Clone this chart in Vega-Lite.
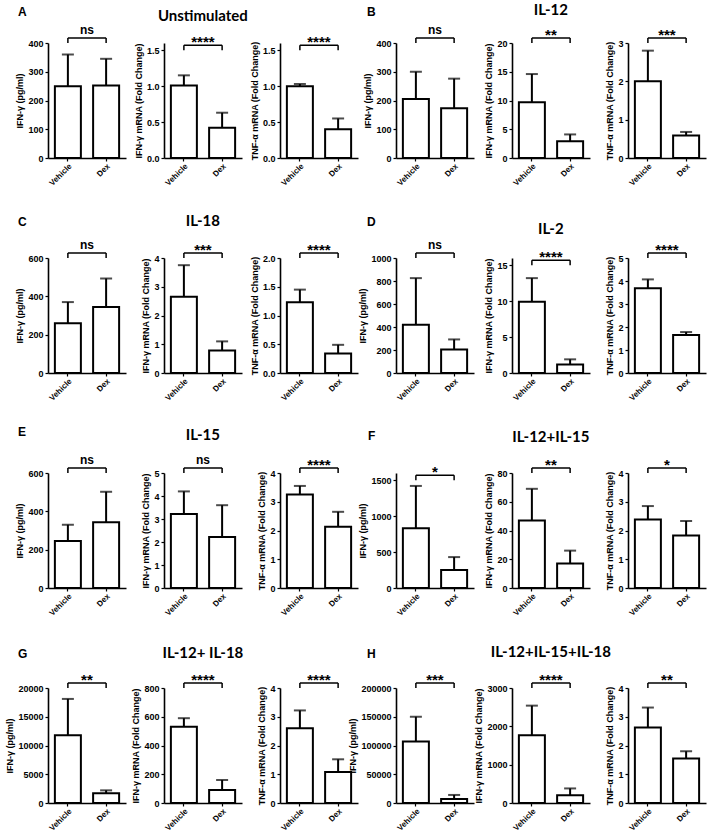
{
"$schema":"https://vega.github.io/schema/vega-lite/v6.json",
"background":"white",
"padding":{"left":5,"top":3,"right":2,"bottom":0},
"datasets":{"bars":[
{"p":"A1","g":"Vehicle","mean":250,"hi":360,"sig":"ns"},
{"p":"A1","g":"Dex","mean":252,"hi":345,"sig":"ns"},
{"p":"A2","g":"Vehicle","mean":1.01,"hi":1.15,"sig":"****"},
{"p":"A2","g":"Dex","mean":0.42,"hi":0.63,"sig":"****"},
{"p":"A3","g":"Vehicle","mean":1.0,"hi":1.03,"sig":"****"},
{"p":"A3","g":"Dex","mean":0.4,"hi":0.55,"sig":"****"},
{"p":"B1","g":"Vehicle","mean":205,"hi":300,"sig":"ns"},
{"p":"B1","g":"Dex","mean":173,"hi":276,"sig":"ns"},
{"p":"B2","g":"Vehicle","mean":9.7,"hi":14.6,"sig":"**"},
{"p":"B2","g":"Dex","mean":2.9,"hi":4.1,"sig":"**"},
{"p":"B3","g":"Vehicle","mean":2.0,"hi":2.8,"sig":"***"},
{"p":"B3","g":"Dex","mean":0.59,"hi":0.68,"sig":"***"},
{"p":"C1","g":"Vehicle","mean":260,"hi":370,"sig":"ns"},
{"p":"C1","g":"Dex","mean":345,"hi":493,"sig":"ns"},
{"p":"C2","g":"Vehicle","mean":2.65,"hi":3.75,"sig":"***"},
{"p":"C2","g":"Dex","mean":0.78,"hi":1.1,"sig":"***"},
{"p":"C3","g":"Vehicle","mean":1.23,"hi":1.45,"sig":"****"},
{"p":"C3","g":"Dex","mean":0.34,"hi":0.49,"sig":"****"},
{"p":"D1","g":"Vehicle","mean":420,"hi":825,"sig":"ns"},
{"p":"D1","g":"Dex","mean":205,"hi":292,"sig":"ns"},
{"p":"D2","g":"Vehicle","mean":9.9,"hi":13.2,"sig":"****"},
{"p":"D2","g":"Dex","mean":1.2,"hi":1.9,"sig":"****"},
{"p":"D3","g":"Vehicle","mean":3.68,"hi":4.07,"sig":"****"},
{"p":"D3","g":"Dex","mean":1.65,"hi":1.78,"sig":"****"},
{"p":"E1","g":"Vehicle","mean":245,"hi":330,"sig":"ns"},
{"p":"E1","g":"Dex","mean":343,"hi":502,"sig":"ns"},
{"p":"E2","g":"Vehicle","mean":3.22,"hi":4.2,"sig":"ns"},
{"p":"E2","g":"Dex","mean":2.22,"hi":3.6,"sig":"ns"},
{"p":"E3","g":"Vehicle","mean":3.25,"hi":3.55,"sig":"****"},
{"p":"E3","g":"Dex","mean":2.13,"hi":2.65,"sig":"****"},
{"p":"F1","g":"Vehicle","mean":830,"hi":1420,"sig":"*"},
{"p":"F1","g":"Dex","mean":250,"hi":430,"sig":"*"},
{"p":"F2","g":"Vehicle","mean":47,"hi":69,"sig":"**"},
{"p":"F2","g":"Dex","mean":17,"hi":26,"sig":"**"},
{"p":"F3","g":"Vehicle","mean":2.38,"hi":2.85,"sig":"*"},
{"p":"F3","g":"Dex","mean":1.83,"hi":2.33,"sig":"*"},
{"p":"G1","g":"Vehicle","mean":11800,"hi":18100,"sig":"**"},
{"p":"G1","g":"Dex","mean":1700,"hi":2200,"sig":"**"},
{"p":"G2","g":"Vehicle","mean":530,"hi":590,"sig":"****"},
{"p":"G2","g":"Dex","mean":90,"hi":160,"sig":"****"},
{"p":"G3","g":"Vehicle","mean":2.6,"hi":3.22,"sig":"****"},
{"p":"G3","g":"Dex","mean":1.08,"hi":1.52,"sig":"****"},
{"p":"H1","g":"Vehicle","mean":107000,"hi":150000,"sig":"***"},
{"p":"H1","g":"Dex","mean":7000,"hi":14000,"sig":"***"},
{"p":"H2","g":"Vehicle","mean":1770,"hi":2540,"sig":"****"},
{"p":"H2","g":"Dex","mean":200,"hi":380,"sig":"****"},
{"p":"H3","g":"Vehicle","mean":2.63,"hi":3.32,"sig":"**"},
{"p":"H3","g":"Dex","mean":1.55,"hi":1.8,"sig":"**"}
]},
"columns":6,
"bounds":"flush",
"spacing":{"row":100,"column":38},
"concat":[
{"width":78,"height":115,
"data":{"name":"bars"},"transform":[{"filter":"datum.p==='A1'"}],
"encoding":{"x":{"field":"g","type":"nominal","sort":["Vehicle","Dex"],"title":null}},
"layer":[
{"mark":"bar","encoding":{"y":{"field":"mean","type":"quantitative","scale":{"domain":[0,400]},"axis":{"title":"IFN-γ (pg/ml)","values":[0,100,200,300,400],"tickCount":20,"format":"d"}}}},
{"mark":"rule","encoding":{"y":{"field":"mean","type":"quantitative"},"y2":{"field":"hi"}}},
{"mark":{"type":"tick","size":12,"thickness":2,"color":"black"},"encoding":{"y":{"field":"hi","type":"quantitative"}}},
{"mark":{"type":"rule","yOffset":-5,"strokeWidth":1.5},"encoding":{"y":{"datum":400},"y2":{"datum":400}}},
{"transform":[{"filter":"datum.g==='Vehicle'"}],"mark":{"type":"rule","yOffset":-5,"strokeWidth":1.5},"encoding":{"x2":{"datum":"Dex"},"y":{"datum":400}}},
{"transform":[{"filter":"datum.g==='Vehicle'"}],"mark":{"type":"text","dx":19,"dy":-9,"fontSize":12},"encoding":{"y":{"datum":400},"text":{"field":"sig"}}},
{"transform":[{"filter":"datum.g==='Vehicle'"}],"mark":{"type":"text","align":"left","dx":-50,"dy":-27,"fontSize":12},"encoding":{"y":{"datum":400},"text":{"value":"A"}}}
]},
{"width":78,"height":115,
"data":{"name":"bars"},"transform":[{"filter":"datum.p==='A2'"}],
"encoding":{"x":{"field":"g","type":"nominal","sort":["Vehicle","Dex"],"title":null}},
"layer":[
{"mark":"bar","encoding":{"y":{"field":"mean","type":"quantitative","scale":{"domain":[0,1.5]},"axis":{"title":"IFN-γ mRNA (Fold Change)","values":[0,0.5,1,1.5],"tickCount":20,"format":".1f"}}}},
{"mark":"rule","encoding":{"y":{"field":"mean","type":"quantitative"},"y2":{"field":"hi"}}},
{"mark":{"type":"tick","size":12,"thickness":2,"color":"black"},"encoding":{"y":{"field":"hi","type":"quantitative"}}},
{"mark":{"type":"rule","yOffset":-5,"strokeWidth":1.5},"encoding":{"y":{"datum":1.5},"y2":{"datum":1.5}}},
{"transform":[{"filter":"datum.g==='Vehicle'"}],"mark":{"type":"rule","yOffset":-5,"strokeWidth":1.5},"encoding":{"x2":{"datum":"Dex"},"y":{"datum":1.5}}},
{"transform":[{"filter":"datum.g==='Vehicle'"}],"mark":{"type":"text","dx":19,"dy":-3,"fontSize":15},"encoding":{"y":{"datum":1.5},"text":{"field":"sig"}}},
{"transform":[{"filter":"datum.g==='Vehicle'"}],"mark":{"type":"text","font":"Lato","dx":19,"dy":-29,"fontSize":15},"encoding":{"y":{"datum":1.5},"text":{"value":"Unstimulated"}}}
]},
{"width":78,"height":115,
"data":{"name":"bars"},"transform":[{"filter":"datum.p==='A3'"}],
"encoding":{"x":{"field":"g","type":"nominal","sort":["Vehicle","Dex"],"title":null}},
"layer":[
{"mark":"bar","encoding":{"y":{"field":"mean","type":"quantitative","scale":{"domain":[0,1.5]},"axis":{"title":"TNF-α mRNA (Fold Change)","values":[0,0.5,1,1.5],"tickCount":20,"format":".1f"}}}},
{"mark":"rule","encoding":{"y":{"field":"mean","type":"quantitative"},"y2":{"field":"hi"}}},
{"mark":{"type":"tick","size":12,"thickness":2,"color":"black"},"encoding":{"y":{"field":"hi","type":"quantitative"}}},
{"mark":{"type":"rule","yOffset":-5,"strokeWidth":1.5},"encoding":{"y":{"datum":1.5},"y2":{"datum":1.5}}},
{"transform":[{"filter":"datum.g==='Vehicle'"}],"mark":{"type":"rule","yOffset":-5,"strokeWidth":1.5},"encoding":{"x2":{"datum":"Dex"},"y":{"datum":1.5}}},
{"transform":[{"filter":"datum.g==='Vehicle'"}],"mark":{"type":"text","dx":19,"dy":-3,"fontSize":15},"encoding":{"y":{"datum":1.5},"text":{"field":"sig"}}}
]},
{"width":78,"height":115,
"data":{"name":"bars"},"transform":[{"filter":"datum.p==='B1'"}],
"encoding":{"x":{"field":"g","type":"nominal","sort":["Vehicle","Dex"],"title":null}},
"layer":[
{"mark":"bar","encoding":{"y":{"field":"mean","type":"quantitative","scale":{"domain":[0,400]},"axis":{"title":"IFN-γ (pg/ml)","values":[0,100,200,300,400],"tickCount":20,"format":"d"}}}},
{"mark":"rule","encoding":{"y":{"field":"mean","type":"quantitative"},"y2":{"field":"hi"}}},
{"mark":{"type":"tick","size":12,"thickness":2,"color":"black"},"encoding":{"y":{"field":"hi","type":"quantitative"}}},
{"mark":{"type":"rule","yOffset":-5,"strokeWidth":1.5},"encoding":{"y":{"datum":400},"y2":{"datum":400}}},
{"transform":[{"filter":"datum.g==='Vehicle'"}],"mark":{"type":"rule","yOffset":-5,"strokeWidth":1.5},"encoding":{"x2":{"datum":"Dex"},"y":{"datum":400}}},
{"transform":[{"filter":"datum.g==='Vehicle'"}],"mark":{"type":"text","dx":19,"dy":-9,"fontSize":12},"encoding":{"y":{"datum":400},"text":{"field":"sig"}}},
{"transform":[{"filter":"datum.g==='Vehicle'"}],"mark":{"type":"text","align":"left","dx":-49,"dy":-27,"fontSize":12},"encoding":{"y":{"datum":400},"text":{"value":"B"}}}
]},
{"width":78,"height":115,
"data":{"name":"bars"},"transform":[{"filter":"datum.p==='B2'"}],
"encoding":{"x":{"field":"g","type":"nominal","sort":["Vehicle","Dex"],"title":null}},
"layer":[
{"mark":"bar","encoding":{"y":{"field":"mean","type":"quantitative","scale":{"domain":[0,20]},"axis":{"title":"IFN-γ mRNA (Fold Change)","values":[0,5,10,15,20],"tickCount":20,"format":"d"}}}},
{"mark":"rule","encoding":{"y":{"field":"mean","type":"quantitative"},"y2":{"field":"hi"}}},
{"mark":{"type":"tick","size":12,"thickness":2,"color":"black"},"encoding":{"y":{"field":"hi","type":"quantitative"}}},
{"mark":{"type":"rule","yOffset":-5,"strokeWidth":1.5},"encoding":{"y":{"datum":20},"y2":{"datum":20}}},
{"transform":[{"filter":"datum.g==='Vehicle'"}],"mark":{"type":"rule","yOffset":-5,"strokeWidth":1.5},"encoding":{"x2":{"datum":"Dex"},"y":{"datum":20}}},
{"transform":[{"filter":"datum.g==='Vehicle'"}],"mark":{"type":"text","dx":19,"dy":-3,"fontSize":15},"encoding":{"y":{"datum":20},"text":{"field":"sig"}}},
{"transform":[{"filter":"datum.g==='Vehicle'"}],"mark":{"type":"text","font":"Lato","dx":19,"dy":-28,"fontSize":15},"encoding":{"y":{"datum":20},"text":{"value":"IL-12"}}}
]},
{"width":78,"height":115,
"data":{"name":"bars"},"transform":[{"filter":"datum.p==='B3'"}],
"encoding":{"x":{"field":"g","type":"nominal","sort":["Vehicle","Dex"],"title":null}},
"layer":[
{"mark":"bar","encoding":{"y":{"field":"mean","type":"quantitative","scale":{"domain":[0,3]},"axis":{"title":"TNF-α mRNA (Fold Change)","values":[0,1,2,3],"tickCount":20,"format":"d"}}}},
{"mark":"rule","encoding":{"y":{"field":"mean","type":"quantitative"},"y2":{"field":"hi"}}},
{"mark":{"type":"tick","size":12,"thickness":2,"color":"black"},"encoding":{"y":{"field":"hi","type":"quantitative"}}},
{"mark":{"type":"rule","yOffset":-5,"strokeWidth":1.5},"encoding":{"y":{"datum":3},"y2":{"datum":3}}},
{"transform":[{"filter":"datum.g==='Vehicle'"}],"mark":{"type":"rule","yOffset":-5,"strokeWidth":1.5},"encoding":{"x2":{"datum":"Dex"},"y":{"datum":3}}},
{"transform":[{"filter":"datum.g==='Vehicle'"}],"mark":{"type":"text","dx":19,"dy":-3,"fontSize":15},"encoding":{"y":{"datum":3},"text":{"field":"sig"}}}
]},
{"width":78,"height":115,
"data":{"name":"bars"},"transform":[{"filter":"datum.p==='C1'"}],
"encoding":{"x":{"field":"g","type":"nominal","sort":["Vehicle","Dex"],"title":null}},
"layer":[
{"mark":"bar","encoding":{"y":{"field":"mean","type":"quantitative","scale":{"domain":[0,600]},"axis":{"title":"IFN-γ (pg/ml)","values":[0,200,400,600],"tickCount":20,"format":"d"}}}},
{"mark":"rule","encoding":{"y":{"field":"mean","type":"quantitative"},"y2":{"field":"hi"}}},
{"mark":{"type":"tick","size":12,"thickness":2,"color":"black"},"encoding":{"y":{"field":"hi","type":"quantitative"}}},
{"mark":{"type":"rule","yOffset":-5,"strokeWidth":1.5},"encoding":{"y":{"datum":600},"y2":{"datum":600}}},
{"transform":[{"filter":"datum.g==='Vehicle'"}],"mark":{"type":"rule","yOffset":-5,"strokeWidth":1.5},"encoding":{"x2":{"datum":"Dex"},"y":{"datum":600}}},
{"transform":[{"filter":"datum.g==='Vehicle'"}],"mark":{"type":"text","dx":19,"dy":-9,"fontSize":12},"encoding":{"y":{"datum":600},"text":{"field":"sig"}}},
{"transform":[{"filter":"datum.g==='Vehicle'"}],"mark":{"type":"text","align":"left","dx":-50,"dy":-32,"fontSize":12},"encoding":{"y":{"datum":600},"text":{"value":"C"}}}
]},
{"width":78,"height":115,
"data":{"name":"bars"},"transform":[{"filter":"datum.p==='C2'"}],
"encoding":{"x":{"field":"g","type":"nominal","sort":["Vehicle","Dex"],"title":null}},
"layer":[
{"mark":"bar","encoding":{"y":{"field":"mean","type":"quantitative","scale":{"domain":[0,4]},"axis":{"title":"IFN-γ mRNA (Fold Change)","values":[0,1,2,3,4],"tickCount":20,"format":"d"}}}},
{"mark":"rule","encoding":{"y":{"field":"mean","type":"quantitative"},"y2":{"field":"hi"}}},
{"mark":{"type":"tick","size":12,"thickness":2,"color":"black"},"encoding":{"y":{"field":"hi","type":"quantitative"}}},
{"mark":{"type":"rule","yOffset":-5,"strokeWidth":1.5},"encoding":{"y":{"datum":4},"y2":{"datum":4}}},
{"transform":[{"filter":"datum.g==='Vehicle'"}],"mark":{"type":"rule","yOffset":-5,"strokeWidth":1.5},"encoding":{"x2":{"datum":"Dex"},"y":{"datum":4}}},
{"transform":[{"filter":"datum.g==='Vehicle'"}],"mark":{"type":"text","dx":19,"dy":-3,"fontSize":15},"encoding":{"y":{"datum":4},"text":{"field":"sig"}}},
{"transform":[{"filter":"datum.g==='Vehicle'"}],"mark":{"type":"text","font":"Lato","dx":19,"dy":-32,"fontSize":15},"encoding":{"y":{"datum":4},"text":{"value":"IL-18"}}}
]},
{"width":78,"height":115,
"data":{"name":"bars"},"transform":[{"filter":"datum.p==='C3'"}],
"encoding":{"x":{"field":"g","type":"nominal","sort":["Vehicle","Dex"],"title":null}},
"layer":[
{"mark":"bar","encoding":{"y":{"field":"mean","type":"quantitative","scale":{"domain":[0,2]},"axis":{"title":"TNF-α mRNA (Fold Change)","values":[0,0.5,1,1.5,2],"tickCount":20,"format":".1f"}}}},
{"mark":"rule","encoding":{"y":{"field":"mean","type":"quantitative"},"y2":{"field":"hi"}}},
{"mark":{"type":"tick","size":12,"thickness":2,"color":"black"},"encoding":{"y":{"field":"hi","type":"quantitative"}}},
{"mark":{"type":"rule","yOffset":-5,"strokeWidth":1.5},"encoding":{"y":{"datum":2},"y2":{"datum":2}}},
{"transform":[{"filter":"datum.g==='Vehicle'"}],"mark":{"type":"rule","yOffset":-5,"strokeWidth":1.5},"encoding":{"x2":{"datum":"Dex"},"y":{"datum":2}}},
{"transform":[{"filter":"datum.g==='Vehicle'"}],"mark":{"type":"text","dx":19,"dy":-3,"fontSize":15},"encoding":{"y":{"datum":2},"text":{"field":"sig"}}}
]},
{"width":78,"height":115,
"data":{"name":"bars"},"transform":[{"filter":"datum.p==='D1'"}],
"encoding":{"x":{"field":"g","type":"nominal","sort":["Vehicle","Dex"],"title":null}},
"layer":[
{"mark":"bar","encoding":{"y":{"field":"mean","type":"quantitative","scale":{"domain":[0,1000]},"axis":{"title":"IFN-γ (pg/ml)","values":[0,200,400,600,800,1000],"tickCount":20,"format":"d"}}}},
{"mark":"rule","encoding":{"y":{"field":"mean","type":"quantitative"},"y2":{"field":"hi"}}},
{"mark":{"type":"tick","size":12,"thickness":2,"color":"black"},"encoding":{"y":{"field":"hi","type":"quantitative"}}},
{"mark":{"type":"rule","yOffset":-5,"strokeWidth":1.5},"encoding":{"y":{"datum":1000},"y2":{"datum":1000}}},
{"transform":[{"filter":"datum.g==='Vehicle'"}],"mark":{"type":"rule","yOffset":-5,"strokeWidth":1.5},"encoding":{"x2":{"datum":"Dex"},"y":{"datum":1000}}},
{"transform":[{"filter":"datum.g==='Vehicle'"}],"mark":{"type":"text","dx":19,"dy":-9,"fontSize":12},"encoding":{"y":{"datum":1000},"text":{"field":"sig"}}},
{"transform":[{"filter":"datum.g==='Vehicle'"}],"mark":{"type":"text","align":"left","dx":-49,"dy":-32,"fontSize":12},"encoding":{"y":{"datum":1000},"text":{"value":"D"}}}
]},
{"width":78,"height":115,
"data":{"name":"bars"},"transform":[{"filter":"datum.p==='D2'"}],
"encoding":{"x":{"field":"g","type":"nominal","sort":["Vehicle","Dex"],"title":null}},
"layer":[
{"mark":"bar","encoding":{"y":{"field":"mean","type":"quantitative","scale":{"domain":[0,15]},"axis":{"title":"IFN-γ mRNA (Fold Change)","values":[0,5,10,15],"tickCount":20,"format":"d"}}}},
{"mark":"rule","encoding":{"y":{"field":"mean","type":"quantitative"},"y2":{"field":"hi"}}},
{"mark":{"type":"tick","size":12,"thickness":2,"color":"black"},"encoding":{"y":{"field":"hi","type":"quantitative"}}},
{"mark":{"type":"rule","yOffset":-5,"strokeWidth":1.5},"encoding":{"y":{"datum":15},"y2":{"datum":15}}},
{"transform":[{"filter":"datum.g==='Vehicle'"}],"mark":{"type":"rule","yOffset":-5,"strokeWidth":1.5},"encoding":{"x2":{"datum":"Dex"},"y":{"datum":15}}},
{"transform":[{"filter":"datum.g==='Vehicle'"}],"mark":{"type":"text","dx":19,"dy":-3,"fontSize":15},"encoding":{"y":{"datum":15},"text":{"field":"sig"}}},
{"transform":[{"filter":"datum.g==='Vehicle'"}],"mark":{"type":"text","font":"Lato","dx":19,"dy":-31,"fontSize":15},"encoding":{"y":{"datum":15},"text":{"value":"IL-2"}}}
]},
{"width":78,"height":115,
"data":{"name":"bars"},"transform":[{"filter":"datum.p==='D3'"}],
"encoding":{"x":{"field":"g","type":"nominal","sort":["Vehicle","Dex"],"title":null}},
"layer":[
{"mark":"bar","encoding":{"y":{"field":"mean","type":"quantitative","scale":{"domain":[0,5]},"axis":{"title":"TNF-α mRNA (Fold Change)","values":[0,1,2,3,4,5],"tickCount":20,"format":"d"}}}},
{"mark":"rule","encoding":{"y":{"field":"mean","type":"quantitative"},"y2":{"field":"hi"}}},
{"mark":{"type":"tick","size":12,"thickness":2,"color":"black"},"encoding":{"y":{"field":"hi","type":"quantitative"}}},
{"mark":{"type":"rule","yOffset":-5,"strokeWidth":1.5},"encoding":{"y":{"datum":5},"y2":{"datum":5}}},
{"transform":[{"filter":"datum.g==='Vehicle'"}],"mark":{"type":"rule","yOffset":-5,"strokeWidth":1.5},"encoding":{"x2":{"datum":"Dex"},"y":{"datum":5}}},
{"transform":[{"filter":"datum.g==='Vehicle'"}],"mark":{"type":"text","dx":19,"dy":-3,"fontSize":15},"encoding":{"y":{"datum":5},"text":{"field":"sig"}}}
]},
{"width":78,"height":115,
"data":{"name":"bars"},"transform":[{"filter":"datum.p==='E1'"}],
"encoding":{"x":{"field":"g","type":"nominal","sort":["Vehicle","Dex"],"title":null}},
"layer":[
{"mark":"bar","encoding":{"y":{"field":"mean","type":"quantitative","scale":{"domain":[0,600]},"axis":{"title":"IFN-γ (pg/ml)","values":[0,200,400,600],"tickCount":20,"format":"d"}}}},
{"mark":"rule","encoding":{"y":{"field":"mean","type":"quantitative"},"y2":{"field":"hi"}}},
{"mark":{"type":"tick","size":12,"thickness":2,"color":"black"},"encoding":{"y":{"field":"hi","type":"quantitative"}}},
{"mark":{"type":"rule","yOffset":-5,"strokeWidth":1.5},"encoding":{"y":{"datum":600},"y2":{"datum":600}}},
{"transform":[{"filter":"datum.g==='Vehicle'"}],"mark":{"type":"rule","yOffset":-5,"strokeWidth":1.5},"encoding":{"x2":{"datum":"Dex"},"y":{"datum":600}}},
{"transform":[{"filter":"datum.g==='Vehicle'"}],"mark":{"type":"text","dx":19,"dy":-9,"fontSize":12},"encoding":{"y":{"datum":600},"text":{"field":"sig"}}},
{"transform":[{"filter":"datum.g==='Vehicle'"}],"mark":{"type":"text","align":"left","dx":-50,"dy":-37,"fontSize":12},"encoding":{"y":{"datum":600},"text":{"value":"E"}}}
]},
{"width":78,"height":115,
"data":{"name":"bars"},"transform":[{"filter":"datum.p==='E2'"}],
"encoding":{"x":{"field":"g","type":"nominal","sort":["Vehicle","Dex"],"title":null}},
"layer":[
{"mark":"bar","encoding":{"y":{"field":"mean","type":"quantitative","scale":{"domain":[0,5]},"axis":{"title":"IFN-γ mRNA (Fold Change)","values":[0,1,2,3,4,5],"tickCount":20,"format":"d"}}}},
{"mark":"rule","encoding":{"y":{"field":"mean","type":"quantitative"},"y2":{"field":"hi"}}},
{"mark":{"type":"tick","size":12,"thickness":2,"color":"black"},"encoding":{"y":{"field":"hi","type":"quantitative"}}},
{"mark":{"type":"rule","yOffset":-5,"strokeWidth":1.5},"encoding":{"y":{"datum":5},"y2":{"datum":5}}},
{"transform":[{"filter":"datum.g==='Vehicle'"}],"mark":{"type":"rule","yOffset":-5,"strokeWidth":1.5},"encoding":{"x2":{"datum":"Dex"},"y":{"datum":5}}},
{"transform":[{"filter":"datum.g==='Vehicle'"}],"mark":{"type":"text","dx":19,"dy":-9,"fontSize":12},"encoding":{"y":{"datum":5},"text":{"field":"sig"}}},
{"transform":[{"filter":"datum.g==='Vehicle'"}],"mark":{"type":"text","font":"Lato","dx":19,"dy":-33,"fontSize":15},"encoding":{"y":{"datum":5},"text":{"value":"IL-15"}}}
]},
{"width":78,"height":115,
"data":{"name":"bars"},"transform":[{"filter":"datum.p==='E3'"}],
"encoding":{"x":{"field":"g","type":"nominal","sort":["Vehicle","Dex"],"title":null}},
"layer":[
{"mark":"bar","encoding":{"y":{"field":"mean","type":"quantitative","scale":{"domain":[0,4]},"axis":{"title":"TNF-α mRNA (Fold Change)","values":[0,1,2,3,4],"tickCount":20,"format":"d"}}}},
{"mark":"rule","encoding":{"y":{"field":"mean","type":"quantitative"},"y2":{"field":"hi"}}},
{"mark":{"type":"tick","size":12,"thickness":2,"color":"black"},"encoding":{"y":{"field":"hi","type":"quantitative"}}},
{"mark":{"type":"rule","yOffset":-5,"strokeWidth":1.5},"encoding":{"y":{"datum":4},"y2":{"datum":4}}},
{"transform":[{"filter":"datum.g==='Vehicle'"}],"mark":{"type":"rule","yOffset":-5,"strokeWidth":1.5},"encoding":{"x2":{"datum":"Dex"},"y":{"datum":4}}},
{"transform":[{"filter":"datum.g==='Vehicle'"}],"mark":{"type":"text","dx":19,"dy":-3,"fontSize":15},"encoding":{"y":{"datum":4},"text":{"field":"sig"}}}
]},
{"width":78,"height":115,
"data":{"name":"bars"},"transform":[{"filter":"datum.p==='F1'"}],
"encoding":{"x":{"field":"g","type":"nominal","sort":["Vehicle","Dex"],"title":null}},
"layer":[
{"mark":"bar","encoding":{"y":{"field":"mean","type":"quantitative","scale":{"domain":[0,1500]},"axis":{"title":"IFN-γ (pg/ml)","values":[0,500,1000,1500],"tickCount":20,"format":"d"}}}},
{"mark":"rule","encoding":{"y":{"field":"mean","type":"quantitative"},"y2":{"field":"hi"}}},
{"mark":{"type":"tick","size":12,"thickness":2,"color":"black"},"encoding":{"y":{"field":"hi","type":"quantitative"}}},
{"mark":{"type":"rule","yOffset":-5,"strokeWidth":1.5},"encoding":{"y":{"datum":1500},"y2":{"datum":1500}}},
{"transform":[{"filter":"datum.g==='Vehicle'"}],"mark":{"type":"rule","yOffset":-5,"strokeWidth":1.5},"encoding":{"x2":{"datum":"Dex"},"y":{"datum":1500}}},
{"transform":[{"filter":"datum.g==='Vehicle'"}],"mark":{"type":"text","dx":19,"dy":-3,"fontSize":15},"encoding":{"y":{"datum":1500},"text":{"field":"sig"}}},
{"transform":[{"filter":"datum.g==='Vehicle'"}],"mark":{"type":"text","align":"left","dx":-48,"dy":-40,"fontSize":12},"encoding":{"y":{"datum":1500},"text":{"value":"F"}}}
]},
{"width":78,"height":115,
"data":{"name":"bars"},"transform":[{"filter":"datum.p==='F2'"}],
"encoding":{"x":{"field":"g","type":"nominal","sort":["Vehicle","Dex"],"title":null}},
"layer":[
{"mark":"bar","encoding":{"y":{"field":"mean","type":"quantitative","scale":{"domain":[0,80]},"axis":{"title":"IFN-γ mRNA (Fold Change)","values":[0,20,40,60,80],"tickCount":20,"format":"d"}}}},
{"mark":"rule","encoding":{"y":{"field":"mean","type":"quantitative"},"y2":{"field":"hi"}}},
{"mark":{"type":"tick","size":12,"thickness":2,"color":"black"},"encoding":{"y":{"field":"hi","type":"quantitative"}}},
{"mark":{"type":"rule","yOffset":-5,"strokeWidth":1.5},"encoding":{"y":{"datum":80},"y2":{"datum":80}}},
{"transform":[{"filter":"datum.g==='Vehicle'"}],"mark":{"type":"rule","yOffset":-5,"strokeWidth":1.5},"encoding":{"x2":{"datum":"Dex"},"y":{"datum":80}}},
{"transform":[{"filter":"datum.g==='Vehicle'"}],"mark":{"type":"text","dx":19,"dy":-3,"fontSize":15},"encoding":{"y":{"datum":80},"text":{"field":"sig"}}},
{"transform":[{"filter":"datum.g==='Vehicle'"}],"mark":{"type":"text","font":"Lato","dx":19,"dy":-31,"fontSize":15},"encoding":{"y":{"datum":80},"text":{"value":"IL-12+IL-15"}}}
]},
{"width":78,"height":115,
"data":{"name":"bars"},"transform":[{"filter":"datum.p==='F3'"}],
"encoding":{"x":{"field":"g","type":"nominal","sort":["Vehicle","Dex"],"title":null}},
"layer":[
{"mark":"bar","encoding":{"y":{"field":"mean","type":"quantitative","scale":{"domain":[0,4]},"axis":{"title":"TNF-α mRNA (Fold Change)","values":[0,1,2,3,4],"tickCount":20,"format":"d"}}}},
{"mark":"rule","encoding":{"y":{"field":"mean","type":"quantitative"},"y2":{"field":"hi"}}},
{"mark":{"type":"tick","size":12,"thickness":2,"color":"black"},"encoding":{"y":{"field":"hi","type":"quantitative"}}},
{"mark":{"type":"rule","yOffset":-5,"strokeWidth":1.5},"encoding":{"y":{"datum":4},"y2":{"datum":4}}},
{"transform":[{"filter":"datum.g==='Vehicle'"}],"mark":{"type":"rule","yOffset":-5,"strokeWidth":1.5},"encoding":{"x2":{"datum":"Dex"},"y":{"datum":4}}},
{"transform":[{"filter":"datum.g==='Vehicle'"}],"mark":{"type":"text","dx":19,"dy":-3,"fontSize":15},"encoding":{"y":{"datum":4},"text":{"field":"sig"}}}
]},
{"width":78,"height":115,
"data":{"name":"bars"},"transform":[{"filter":"datum.p==='G1'"}],
"encoding":{"x":{"field":"g","type":"nominal","sort":["Vehicle","Dex"],"title":null}},
"layer":[
{"mark":"bar","encoding":{"y":{"field":"mean","type":"quantitative","scale":{"domain":[0,20000]},"axis":{"title":"IFN-γ (pg/ml)","values":[0,5000,10000,15000,20000],"tickCount":20,"format":"d"}}}},
{"mark":"rule","encoding":{"y":{"field":"mean","type":"quantitative"},"y2":{"field":"hi"}}},
{"mark":{"type":"tick","size":12,"thickness":2,"color":"black"},"encoding":{"y":{"field":"hi","type":"quantitative"}}},
{"mark":{"type":"rule","yOffset":-5,"strokeWidth":1.5},"encoding":{"y":{"datum":20000},"y2":{"datum":20000}}},
{"transform":[{"filter":"datum.g==='Vehicle'"}],"mark":{"type":"rule","yOffset":-5,"strokeWidth":1.5},"encoding":{"x2":{"datum":"Dex"},"y":{"datum":20000}}},
{"transform":[{"filter":"datum.g==='Vehicle'"}],"mark":{"type":"text","dx":19,"dy":-3,"fontSize":15},"encoding":{"y":{"datum":20000},"text":{"field":"sig"}}},
{"transform":[{"filter":"datum.g==='Vehicle'"}],"mark":{"type":"text","align":"left","dx":-50,"dy":-30,"fontSize":12},"encoding":{"y":{"datum":20000},"text":{"value":"G"}}}
]},
{"width":78,"height":115,
"data":{"name":"bars"},"transform":[{"filter":"datum.p==='G2'"}],
"encoding":{"x":{"field":"g","type":"nominal","sort":["Vehicle","Dex"],"title":null}},
"layer":[
{"mark":"bar","encoding":{"y":{"field":"mean","type":"quantitative","scale":{"domain":[0,800]},"axis":{"title":"IFN-γ mRNA (Fold Change)","values":[0,200,400,600,800],"tickCount":20,"format":"d"}}}},
{"mark":"rule","encoding":{"y":{"field":"mean","type":"quantitative"},"y2":{"field":"hi"}}},
{"mark":{"type":"tick","size":12,"thickness":2,"color":"black"},"encoding":{"y":{"field":"hi","type":"quantitative"}}},
{"mark":{"type":"rule","yOffset":-5,"strokeWidth":1.5},"encoding":{"y":{"datum":800},"y2":{"datum":800}}},
{"transform":[{"filter":"datum.g==='Vehicle'"}],"mark":{"type":"rule","yOffset":-5,"strokeWidth":1.5},"encoding":{"x2":{"datum":"Dex"},"y":{"datum":800}}},
{"transform":[{"filter":"datum.g==='Vehicle'"}],"mark":{"type":"text","dx":19,"dy":-3,"fontSize":15},"encoding":{"y":{"datum":800},"text":{"field":"sig"}}},
{"transform":[{"filter":"datum.g==='Vehicle'"}],"mark":{"type":"text","font":"Lato","dx":19,"dy":-30,"fontSize":15},"encoding":{"y":{"datum":800},"text":{"value":"IL-12+ IL-18"}}}
]},
{"width":78,"height":115,
"data":{"name":"bars"},"transform":[{"filter":"datum.p==='G3'"}],
"encoding":{"x":{"field":"g","type":"nominal","sort":["Vehicle","Dex"],"title":null}},
"layer":[
{"mark":"bar","encoding":{"y":{"field":"mean","type":"quantitative","scale":{"domain":[0,4]},"axis":{"title":"TNF-α mRNA (Fold Change)","values":[0,1,2,3,4],"tickCount":20,"format":"d"}}}},
{"mark":"rule","encoding":{"y":{"field":"mean","type":"quantitative"},"y2":{"field":"hi"}}},
{"mark":{"type":"tick","size":12,"thickness":2,"color":"black"},"encoding":{"y":{"field":"hi","type":"quantitative"}}},
{"mark":{"type":"rule","yOffset":-5,"strokeWidth":1.5},"encoding":{"y":{"datum":4},"y2":{"datum":4}}},
{"transform":[{"filter":"datum.g==='Vehicle'"}],"mark":{"type":"rule","yOffset":-5,"strokeWidth":1.5},"encoding":{"x2":{"datum":"Dex"},"y":{"datum":4}}},
{"transform":[{"filter":"datum.g==='Vehicle'"}],"mark":{"type":"text","dx":19,"dy":-3,"fontSize":15},"encoding":{"y":{"datum":4},"text":{"field":"sig"}}}
]},
{"width":78,"height":115,
"data":{"name":"bars"},"transform":[{"filter":"datum.p==='H1'"}],
"encoding":{"x":{"field":"g","type":"nominal","sort":["Vehicle","Dex"],"title":null}},
"layer":[
{"mark":"bar","encoding":{"y":{"field":"mean","type":"quantitative","scale":{"domain":[0,200000]},"axis":{"title":"IFN-γ (pg/ml)","values":[0,50000,100000,150000,200000],"tickCount":20,"format":"d"}}}},
{"mark":"rule","encoding":{"y":{"field":"mean","type":"quantitative"},"y2":{"field":"hi"}}},
{"mark":{"type":"tick","size":12,"thickness":2,"color":"black"},"encoding":{"y":{"field":"hi","type":"quantitative"}}},
{"mark":{"type":"rule","yOffset":-5,"strokeWidth":1.5},"encoding":{"y":{"datum":200000},"y2":{"datum":200000}}},
{"transform":[{"filter":"datum.g==='Vehicle'"}],"mark":{"type":"rule","yOffset":-5,"strokeWidth":1.5},"encoding":{"x2":{"datum":"Dex"},"y":{"datum":200000}}},
{"transform":[{"filter":"datum.g==='Vehicle'"}],"mark":{"type":"text","dx":19,"dy":-3,"fontSize":15},"encoding":{"y":{"datum":200000},"text":{"field":"sig"}}},
{"transform":[{"filter":"datum.g==='Vehicle'"}],"mark":{"type":"text","align":"left","dx":-49,"dy":-30,"fontSize":12},"encoding":{"y":{"datum":200000},"text":{"value":"H"}}}
]},
{"width":78,"height":115,
"data":{"name":"bars"},"transform":[{"filter":"datum.p==='H2'"}],
"encoding":{"x":{"field":"g","type":"nominal","sort":["Vehicle","Dex"],"title":null}},
"layer":[
{"mark":"bar","encoding":{"y":{"field":"mean","type":"quantitative","scale":{"domain":[0,3000]},"axis":{"title":"IFN-γ mRNA (Fold Change)","values":[0,1000,2000,3000],"tickCount":20,"format":"d"}}}},
{"mark":"rule","encoding":{"y":{"field":"mean","type":"quantitative"},"y2":{"field":"hi"}}},
{"mark":{"type":"tick","size":12,"thickness":2,"color":"black"},"encoding":{"y":{"field":"hi","type":"quantitative"}}},
{"mark":{"type":"rule","yOffset":-5,"strokeWidth":1.5},"encoding":{"y":{"datum":3000},"y2":{"datum":3000}}},
{"transform":[{"filter":"datum.g==='Vehicle'"}],"mark":{"type":"rule","yOffset":-5,"strokeWidth":1.5},"encoding":{"x2":{"datum":"Dex"},"y":{"datum":3000}}},
{"transform":[{"filter":"datum.g==='Vehicle'"}],"mark":{"type":"text","dx":19,"dy":-3,"fontSize":15},"encoding":{"y":{"datum":3000},"text":{"field":"sig"}}},
{"transform":[{"filter":"datum.g==='Vehicle'"}],"mark":{"type":"text","font":"Lato","dx":19,"dy":-31,"fontSize":15},"encoding":{"y":{"datum":3000},"text":{"value":"IL-12+IL-15+IL-18"}}}
]},
{"width":78,"height":115,
"data":{"name":"bars"},"transform":[{"filter":"datum.p==='H3'"}],
"encoding":{"x":{"field":"g","type":"nominal","sort":["Vehicle","Dex"],"title":null}},
"layer":[
{"mark":"bar","encoding":{"y":{"field":"mean","type":"quantitative","scale":{"domain":[0,4]},"axis":{"title":"TNF-α mRNA (Fold Change)","values":[0,1,2,3,4],"tickCount":20,"format":"d"}}}},
{"mark":"rule","encoding":{"y":{"field":"mean","type":"quantitative"},"y2":{"field":"hi"}}},
{"mark":{"type":"tick","size":12,"thickness":2,"color":"black"},"encoding":{"y":{"field":"hi","type":"quantitative"}}},
{"mark":{"type":"rule","yOffset":-5,"strokeWidth":1.5},"encoding":{"y":{"datum":4},"y2":{"datum":4}}},
{"transform":[{"filter":"datum.g==='Vehicle'"}],"mark":{"type":"rule","yOffset":-5,"strokeWidth":1.5},"encoding":{"x2":{"datum":"Dex"},"y":{"datum":4}}},
{"transform":[{"filter":"datum.g==='Vehicle'"}],"mark":{"type":"text","dx":19,"dy":-3,"fontSize":15},"encoding":{"y":{"datum":4},"text":{"field":"sig"}}}
]}
],
"config":{
"view":{"stroke":null},
"font":"Liberation Sans",
"scale":{"bandPaddingInner":0.32,"bandPaddingOuter":0.18},
"axis":{"grid":false,"labelOverlap":false,"domainColor":"black","domainWidth":1.6,"tickColor":"black","tickWidth":1.2,"tickSize":3,"labelColor":"black","labelFont":"Liberation Sans","labelFontWeight":"bold","labelFontSize":9,"labelPadding":2,"titleFont":"Liberation Sans","titleFontWeight":"bold","titleFontSize":9,"titleColor":"black","titlePadding":3},
"axisX":{"labelAngle":-45,"labelAlign":"right","labelBaseline":"top","labelPadding":1,"labelFontSize":8},
"bar":{"fill":"white","stroke":"black","strokeWidth":2},
"rule":{"color":"black","strokeWidth":2},
"text":{"color":"black","font":"Liberation Sans","fontWeight":"bold","baseline":"alphabetic","align":"center"}
}
}
